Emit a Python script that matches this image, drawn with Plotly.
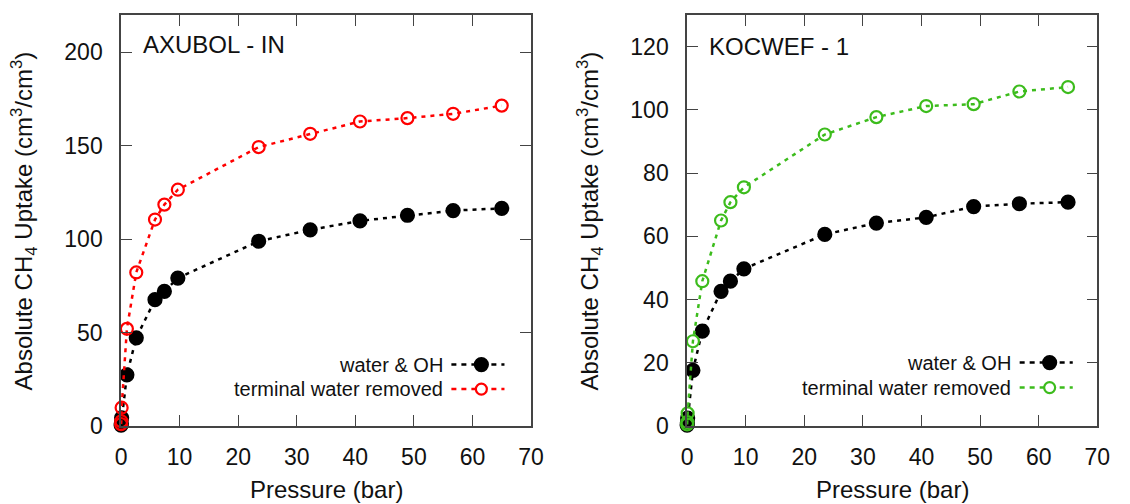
import plotly.graph_objects as go

# Pressure points (bar), shared by both isotherms
pressure = [0.01, 0.05, 0.1, 1.0, 2.6, 5.8, 7.4, 9.7, 23.5, 32.3, 40.8, 48.9, 56.7, 65.0]

# AXUBOL - IN uptake (cm3/cm3)
axubol_water_oh = [0.5, 1.5, 4.4, 27.4, 47.2, 67.6, 72.1, 79.2, 98.9, 105.0, 109.8, 112.8, 115.3, 116.5]
axubol_removed = [1.0, 2.5, 9.8, 52.0, 82.2, 110.5, 118.5, 126.5, 149.3, 156.4, 163.0, 164.8, 167.1, 171.5]

# KOCWEF - 1 uptake (cm3/cm3)
kocwef_water_oh = [0.3, 1.0, 2.5, 17.6, 30.0, 42.6, 45.8, 49.7, 60.6, 64.2, 66.0, 69.4, 70.3, 70.8]
kocwef_removed = [0.5, 1.2, 4.0, 26.8, 45.8, 65.0, 70.8, 75.5, 92.2, 97.7, 101.2, 101.8, 105.8, 107.2]

x_ticks = [0, 10, 20, 30, 40, 50, 60, 70]
left_y_ticks = [0, 50, 100, 150, 200]
right_y_ticks = [0, 20, 40, 60, 80, 100, 120]

panel_titles = ["AXUBOL - IN", "KOCWEF - 1"]
legend_labels = ["water & OH", "terminal water removed"]

RED = "#ff0000"
GREEN = "#3cbc1c"
BLACK = "#000000"
FONT = "Liberation Sans, Arial, sans-serif"
TEXT = "#111111"

W, H = 1130, 504
TOP, BOTTOM = 15, 426.5
PLOT_H = BOTTOM - TOP
LEFT_DOM = (117, 534)
RIGHT_DOM = (692.7, 1110)


def px_x(p):
    return p / W


def px_y(p):
    return (BOTTOM - p) / PLOT_H


fig = go.Figure()


def add_series(xaxis, yaxis, y, color, filled):
    fig.add_trace(go.Scatter(
        x=pressure, y=y, xaxis=xaxis, yaxis=yaxis,
        mode="lines+markers", showlegend=False, cliponaxis=False,
        line=dict(color=color, width=2.5, dash="4px,5px"),
        marker=dict(
            symbol="circle" if filled else "circle-open",
            size=13 if filled else 12,
            color=color,
            line=dict(color=color, width=2.2),
        ),
    ))


add_series("x", "y", axubol_water_oh, BLACK, True)
add_series("x", "y", axubol_removed, RED, False)
add_series("x2", "y2", kocwef_water_oh, BLACK, True)
add_series("x2", "y2", kocwef_removed, GREEN, False)

axis_common = dict(
    showgrid=False, zeroline=False, showline=True, linecolor="#444444", linewidth=1.5,
    mirror="ticks", ticks="inside", ticklen=11, tickwidth=1.3, tickcolor="#444444",
    tickfont=dict(family=FONT, size=23, color=TEXT),
)

fig.update_layout(
    width=W, height=H,
    margin=dict(l=0, r=0, t=TOP, b=H - BOTTOM),
    paper_bgcolor="white", plot_bgcolor="white",
    xaxis=dict(domain=[px_x(LEFT_DOM[0]), px_x(LEFT_DOM[1])], range=[0, 70],
               tickvals=x_ticks, anchor="y", ticklabelstandoff=10, **axis_common),
    yaxis=dict(domain=[0, 1], range=[0, 220], tickvals=left_y_ticks, anchor="x",
               ticklabelstandoff=12, **axis_common),
    xaxis2=dict(domain=[px_x(RIGHT_DOM[0]), px_x(RIGHT_DOM[1])], range=[0, 70],
                tickvals=x_ticks, anchor="y2", ticklabelstandoff=10, **axis_common),
    yaxis2=dict(domain=[0, 1], range=[0, 130], tickvals=right_y_ticks, anchor="x2",
                ticklabelstandoff=12, **axis_common),
    showlegend=False,
)

ytitle = "Absolute CH<sub>4</sub> Uptake (cm<sup>3</sup>/cm<sup>3</sup>)"
annotations = []
shapes = []

panels = [
    (LEFT_DOM, panel_titles[0], RED, 137, 45, 443.3, (453, 507), 483.5, (365, 389.5)),
    (RIGHT_DOM, panel_titles[1], GREEN, 713, 47, 1021, (1031, 1085), 1061.5, (363, 388)),
]

for dom, title, color, tx, ty, lx_text, (l0, l1), mx, (ly1, ly2) in panels:
    # panel label
    annotations.append(dict(
        text=title, x=px_x(tx), y=px_y(ty), xref="paper", yref="paper",
        xanchor="left", yanchor="middle", showarrow=False,
        font=dict(family=FONT, size=24, color=TEXT),
    ))
    # y-axis title
    annotations.append(dict(
        text=ytitle, x=px_x(dom[0] - 99), y=px_y(221), xref="paper", yref="paper",
        xanchor="center", yanchor="middle", showarrow=False, textangle=-90,
        font=dict(family=FONT, size=24, color=TEXT),
    ))
    # x-axis title
    annotations.append(dict(
        text="Pressure (bar)", x=px_x((dom[0] + dom[1]) / 2), y=px_y(490),
        xref="paper", yref="paper", xanchor="center", yanchor="middle",
        showarrow=False, font=dict(family=FONT, size=24, color=TEXT),
    ))
    # key: text on the left, line sample and symbol on the right
    for label, ly, c, filled in [(legend_labels[0], ly1, BLACK, True),
                                 (legend_labels[1], ly2, color, False)]:
        annotations.append(dict(
            text=label, x=px_x(lx_text + 3), y=px_y(ly), xref="paper", yref="paper",
            xanchor="right", yanchor="middle", showarrow=False,
            font=dict(family=FONT, size=20, color=TEXT),
        ))
        shapes.append(dict(
            type="line", xref="paper", yref="paper",
            x0=px_x(l0), x1=px_x(l1), y0=px_y(ly), y1=px_y(ly),
            line=dict(color=c, width=2.5, dash="5px,5px"),
        ))
        r = 6.5 if filled else 5.5
        shapes.append(dict(
            type="circle", xref="paper", yref="paper",
            xsizemode="pixel", ysizemode="pixel",
            xanchor=px_x(mx), yanchor=px_y(ly),
            x0=-r, x1=r, y0=-r, y1=r,
            fillcolor=c if filled else "white",
            line=dict(color=c, width=2.2),
        ))

fig.update_layout(annotations=annotations, shapes=shapes)

fig.write_html("out.html")
